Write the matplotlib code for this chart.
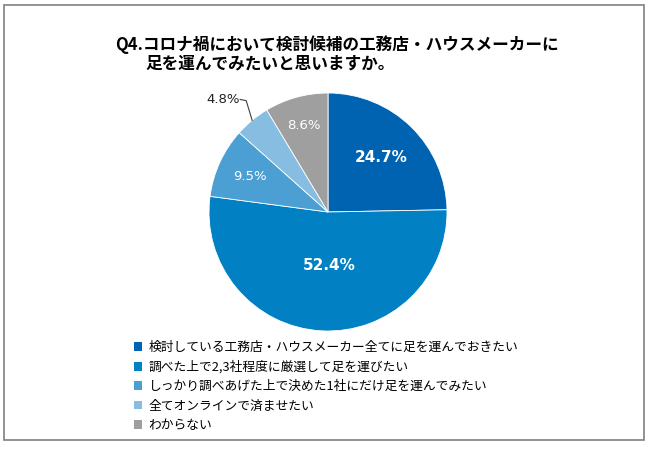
import numpy as np
import matplotlib
matplotlib.use("Agg")
import matplotlib.pyplot as plt
from matplotlib.patches import Rectangle

plt.rcParams['font.family'] = ['Noto Sans CJK JP', 'DejaVu Sans']

W, H = 650, 449

title_line1 = "Q4.コロナ禍において検討候補の工務店・ハウスメーカーに"
title_line2 = "足を運んでみたいと思いますか。"

categories = [
    "検討している工務店・ハウスメーカー全てに足を運んでおきたい",
    "調べた上で2,3社程度に厳選して足を運びたい",
    "しっかり調べあげた上で決めた1社にだけ足を運んでみたい",
    "全てオンラインで済ませたい",
    "わからない",
]
values = [24.7, 52.4, 9.5, 4.8, 8.6]
colors = ["#0063B1", "#0181C3", "#4B9FD2", "#87BDE1", "#9F9F9F"]

# label placement (radius as fraction of pie radius), style
label_r = [0.64, 0.45, 0.72, None, 0.75]
label_bold = [True, True, False, False, False]
label_size = [11, 11, 9.5, 9.5, 9.5]

fig = plt.figure(figsize=(W / 100, H / 100), dpi=100)

# outer frame
fig.patches.append(Rectangle((4 / W, 1 - 440 / H), 640 / W, 435 / H,
                             transform=fig.transFigure, fill=False,
                             edgecolor="#808080", linewidth=1.2))

# title
fig.text(115 / W, 1 - 45 / H, title_line1, fontsize=12, fontweight="bold",
         ha="left", va="center")
fig.text(145 / W, 1 - 63 / H, title_line2, fontsize=12, fontweight="bold",
         ha="left", va="center")

# pie: centre (328, 212), radius 119 px
cx, cy, R = 328, 212, 119
ax = fig.add_axes([(cx - R) / W, 1 - (cy + R) / H, 2 * R / W, 2 * R / H])
wedges, _ = ax.pie(values, colors=colors, startangle=90, counterclock=False,
                   radius=1, wedgeprops=dict(edgecolor="white", linewidth=0.6))
ax.set_xlim(-1, 1)
ax.set_ylim(-1, 1)
ax.axis("off")

for w, v, r, bold, fs in zip(wedges, values, label_r, label_bold, label_size):
    mid = np.deg2rad((w.theta1 + w.theta2) / 2)
    txt = f"{v:.1f}%"
    if r is not None:
        x, y = r * np.cos(mid), r * np.sin(mid)
        if v > 50:
            x += 0.04
        ax.text(x, y, txt, color="white",
                fontsize=fs, fontweight="bold" if bold else "normal",
                ha="center", va="center", family="DejaVu Sans")
    else:
        ex, ey = np.cos(mid), np.sin(mid)
        bx, by = ex - 0.05, ey + 0.165
        lx = bx - 0.05
        ax.plot([ex, bx, lx], [ey, by, by + 0.01], color="#404040",
                linewidth=0.8, clip_on=False)
        ax.text(lx - 0.005, by + 0.01, txt, color="#222222", fontsize=fs,
                ha="right", va="center", family="DejaVu Sans")

# legend
handles = [Rectangle((0, 0), 1, 1, facecolor=c, edgecolor="none") for c in colors]
fig.legend(handles, categories, loc="upper left",
           bbox_to_anchor=(134 / W, 1 - 341 / H), frameon=False,
           fontsize=9.2, handlelength=0.65, handleheight=0.65,
           handletextpad=0.5, labelspacing=0.5, borderpad=0, borderaxespad=0)

fig.savefig("out.png", dpi=100)
